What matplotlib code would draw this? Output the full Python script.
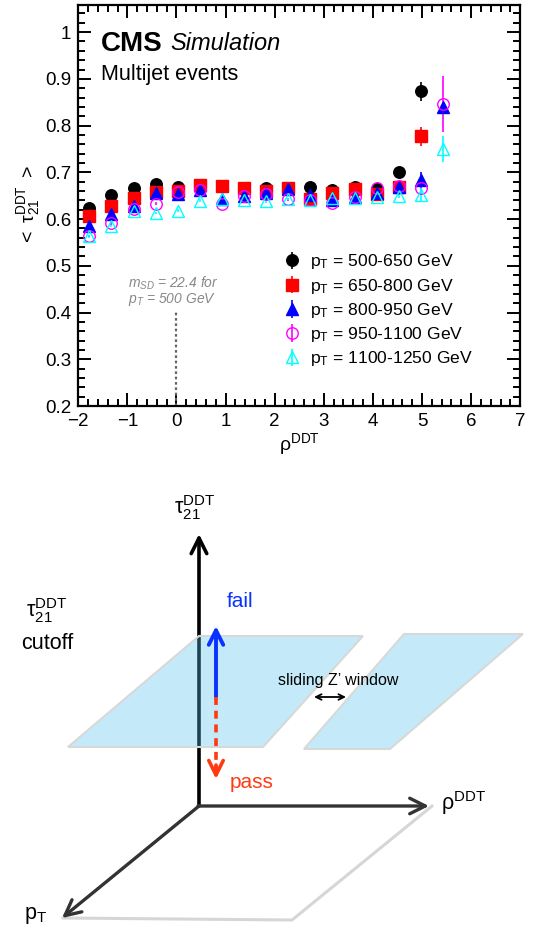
import numpy as np
import matplotlib
matplotlib.use('Agg')
import matplotlib.pyplot as plt
from matplotlib.ticker import MultipleLocator, FuncFormatter
from matplotlib.patches import Polygon

plt.rcParams['font.family'] = ['Liberation Sans', 'DejaVu Sans']
plt.rcParams['mathtext.fontset'] = 'custom'
plt.rcParams['mathtext.rm'] = 'Liberation Sans'
plt.rcParams['mathtext.it'] = 'Liberation Sans:italic'
plt.rcParams['mathtext.bf'] = 'Liberation Sans:bold'
plt.rcParams['mathtext.default'] = 'regular'

# rho^DDT bin centres
rho_bins = [-1.775, -1.325, -0.875, -0.425, 0.025, 0.475, 0.925, 1.375, 1.825,
            2.275, 2.725, 3.175, 3.625, 4.075, 4.525, 4.975, 5.425]
nan = np.nan

# <tau21^DDT> per pT bin
tau_500_650 = [0.623, 0.652, 0.666, 0.675, 0.668, 0.672, 0.670, 0.667, 0.666,
               0.666, 0.669, 0.663, 0.668, 0.665, 0.700, 0.873, nan]
tau_650_800 = [0.607, 0.627, 0.645, 0.657, 0.661, 0.672, 0.670, 0.666, 0.661,
               0.666, 0.643, 0.655, 0.665, 0.653, 0.668, 0.777, nan]
tau_800_950 = [0.586, 0.611, 0.629, 0.655, 0.654, 0.663, 0.643, 0.650, 0.655,
               0.665, 0.652, 0.641, 0.647, 0.655, 0.668, 0.684, 0.840]
tau_950_1100 = [0.564, 0.591, 0.622, 0.633, 0.658, 0.663, 0.633, 0.650, 0.654,
                0.642, 0.641, 0.635, 0.647, 0.666, 0.671, 0.667, 0.846]
tau_1100_1250 = [0.563, 0.585, 0.618, 0.613, 0.618, 0.639, 0.643, 0.641, 0.638,
                 0.643, 0.641, 0.645, 0.645, 0.648, 0.650, 0.651, 0.750]

# statistical uncertainties
err_500_650 = [0.003] * 14 + [0.004, 0.021, nan]
err_650_800 = [0.003] * 14 + [0.004, 0.021, nan]
err_800_950 = [0.003] * 14 + [0.004, 0.017, 0.010]
err_950_1100 = [0.003] * 14 + [0.004, 0.010, 0.060]
err_1100_1250 = [0.003] * 14 + [0.004, 0.015, 0.027]

labels = ['500-650', '650-800', '800-950', '950-1100', '1100-1250']

fig = plt.figure(figsize=(5.38, 9.30), dpi=100)

# ---------------- top panel : profile plot ----------------
ax = fig.add_axes([0.1455, 0.5634, 0.8215, 0.4312])

series = [
    (tau_500_650, err_500_650, dict(marker='o', color='black', mfc='black', mec='black')),
    (tau_650_800, err_650_800, dict(marker='s', color='red', mfc='red', mec='red')),
    (tau_800_950, err_800_950, dict(marker='^', color='blue', mfc='blue', mec='blue')),
    (tau_950_1100, err_950_1100, dict(marker='o', color='magenta', mfc='none', mec='magenta')),
    (tau_1100_1250, err_1100_1250, dict(marker='^', color='cyan', mfc='none', mec='cyan')),
]
handles = []
for (vals, errs, style), lab in zip(series, labels):
    h = ax.errorbar(rho_bins, vals, yerr=errs, ls='none', ms=8.3, elinewidth=1.2,
                    capsize=0, mew=1.0, label=r'$p_{T}$ = %s GeV' % lab, **style)
    handles.append(h)

ax.set_xlim(-2, 7)
ax.set_ylim(0.2, 1.058)
ax.xaxis.set_major_locator(MultipleLocator(1))
ax.xaxis.set_minor_locator(MultipleLocator(0.2))
ax.yaxis.set_major_locator(MultipleLocator(0.1))
ax.yaxis.set_minor_locator(MultipleLocator(0.02))
fmt = FuncFormatter(lambda v, p: ('%g' % round(v, 2)).replace('-', '\u2212'))
ax.xaxis.set_major_formatter(fmt)
ax.yaxis.set_major_formatter(fmt)
ax.tick_params(which='both', direction='in', top=True, right=True, width=1.4,
               labelsize=13.5)
ax.tick_params(which='major', length=9.5, pad=5)
ax.tick_params(which='minor', length=5)
for s in ax.spines.values():
    s.set_linewidth(1.6)

ax.set_xlabel(r'$\rho^{DDT}$', fontsize=14, labelpad=1)
ax.set_ylabel(r'$<\ \tau_{21}^{DDT}\ >$', fontsize=14, labelpad=2)

ax.text(0.052, 0.935, 'CMS', transform=ax.transAxes, fontsize=20,
        fontweight='bold', va='top')
ax.text(0.208, 0.932, 'Simulation', transform=ax.transAxes, fontsize=17,
        style='italic', va='top')
ax.text(0.052, 0.852, 'Multijet events', transform=ax.transAxes, fontsize=15.5,
        va='top')

# soft-drop mass threshold marker
ax.plot([0, 0], [0.2, 0.401], ls=(0, (1.2, 1.2)), color='#666666', lw=1.6)
ax.text(-0.99, 0.446, r'$\mathit{m_{SD}}$ = 22.4 for' + '\n' + r'$\mathit{p_{T}}$ = 500 GeV',
        fontsize=10, color='#888888', style='italic', linespacing=0.95,
        va='center')

ax.legend(handles=handles, loc='upper left', bbox_to_anchor=(0.445, 0.405),
          frameon=False, fontsize=12.6, handlelength=1.0, handletextpad=0.5,
          labelspacing=0.3, borderpad=0)

# ---------------- bottom panel : DDT sketch ----------------
sk = fig.add_axes([0, 0, 1, 0.5])
sk.set_xlim(0, 538)
sk.set_ylim(930, 465)
sk.axis('off')

origin = (199, 806)

# floor parallelogram
sk.plot([63, 292, 432], [918, 920, 806], color='#d6d6d6', lw=2.2, zorder=1)

# axes of the sketch
sk.annotate('', xy=(199, 534), xytext=origin,
            arrowprops=dict(arrowstyle='->', lw=2.6, color='black',
                            mutation_scale=28, shrinkA=0, shrinkB=0), zorder=2)
sk.annotate('', xy=(429, 806), xytext=(198, 806),
            arrowprops=dict(arrowstyle='->', lw=2.4, color='#333333',
                            mutation_scale=28, shrinkA=0, shrinkB=0), zorder=2)
sk.annotate('', xy=(62, 918), xytext=origin,
            arrowprops=dict(arrowstyle='->', lw=2.4, color='#333333',
                            mutation_scale=28, shrinkA=0, shrinkB=0), zorder=2)

# tau21 cut planes (sliding window)
plane_col = (86 / 255, 195 / 255, 240 / 255)
for pts in ([(68, 747), (199, 636), (363, 636), (263, 747)],
            [(304, 749), (404, 634), (523, 634), (390, 749)]):
    sk.add_patch(Polygon(pts, closed=True, facecolor=plane_col, alpha=0.35,
                         edgecolor='none', zorder=3))
    sk.add_patch(Polygon(pts, closed=True, facecolor='none',
                         edgecolor='#d8d8d8', lw=1.5, zorder=3))

# fail / pass arrows
sk.annotate('', xy=(216, 626), xytext=(216, 697),
            arrowprops=dict(arrowstyle='->', lw=2.8, color='#0a32ff',
                            mutation_scale=26, shrinkA=0, shrinkB=0), zorder=4)
sk.plot([216, 216], [697, 770], color='#ff3a12', lw=2.6, ls=(0, (2.2, 1.6)), zorder=4)
sk.annotate('', xy=(216, 779), xytext=(216, 765),
            arrowprops=dict(arrowstyle='->', lw=2.6, color='#ff3a12',
                            mutation_scale=26, shrinkA=0, shrinkB=0), zorder=4)

# sliding window double arrow
sk.annotate('', xy=(346, 697), xytext=(314, 697),
            arrowprops=dict(arrowstyle='<->', lw=1.3, color='black',
                            mutation_scale=10, shrinkA=0, shrinkB=0), zorder=4)

sk.text(195, 508, r'$\tau_{21}^{DDT}$', fontsize=15.5, ha='center', va='center')
sk.text(441, 803, r'$\rho^{DDT}$', fontsize=15.5, ha='left', va='center')
sk.text(24, 915, r'p$_{\mathregular{T}}$', fontsize=15.5, ha='left', va='center')
sk.text(47, 611, r'$\tau_{21}^{DDT}$', fontsize=15.5, ha='center', va='center')
sk.text(47, 643, 'cutoff', fontsize=15.5, ha='center', va='center')
sk.text(227, 601, 'fail', fontsize=15, color='#0a32ff', ha='left', va='center')
sk.text(230, 782, 'pass', fontsize=15, color='#ff3a12', ha='left', va='center')
sk.text(338, 680, 'sliding Z\u2019 window', fontsize=11.5, ha='center', va='center')

fig.savefig('out.png', dpi=100)
